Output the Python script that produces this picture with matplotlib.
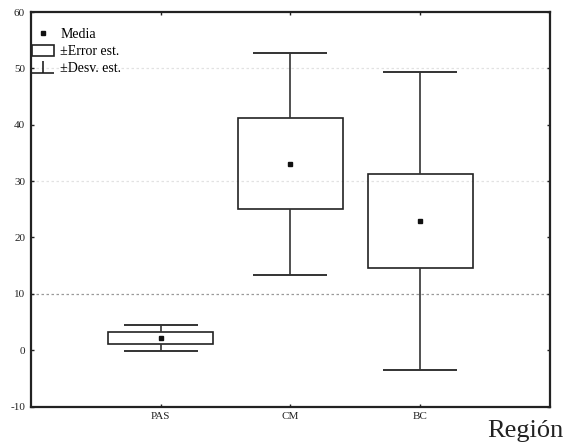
import numpy as np
import matplotlib
matplotlib.use('Agg')
import matplotlib.pyplot as plt
from matplotlib.path import Path
from matplotlib.lines import Line2D
from matplotlib.patches import Rectangle

# Datos
regiones = ['PAS', 'CM', 'BC']
media = [2.2, 33.1, 22.9]
error_est = [1.05, 8.1, 8.4]
desv_est = [2.3, 19.7, 26.5]
yticks = [-10, 0, 10, 20, 30, 40, 50, 60]
lineas_grid = [10, 30, 50]

plt.rcParams['font.family'] = ['Liberation Serif', 'DejaVu Serif']

fig = plt.figure(figsize=(5.65, 4.45), dpi=100)
ax = fig.add_axes([0.0543, 0.0865, 0.9192, 0.8865])

x = np.arange(1, len(regiones) + 1)
media = np.array(media)
se = np.array(error_est)
sd = np.array(desv_est)

# lineas de referencia
for g, c in zip(lineas_grid, ['#9a9a9a', '#e2e2e2', '#e2e2e2']):
    ax.axhline(g, color=c, lw=0.9, ls=(0, (2, 2)), zorder=0)

# cajas (+-error est.)
ax.bar(x, 2 * se, bottom=media - se, width=0.81, fill=False,
       edgecolor='#222222', linewidth=1.2, zorder=2)
# bigotes (+-desv. est.)
ax.vlines(x, media + se, media + sd, color='#333333', lw=1.2, zorder=2)
ax.vlines(x, media - sd, media - se, color='#333333', lw=1.2, zorder=2)
ax.hlines(media + sd, x - 0.285, x + 0.285, color='#333333', lw=1.4, zorder=2)
ax.hlines(media - sd, x - 0.285, x + 0.285, color='#333333', lw=1.4, zorder=2)
# medias
ax.plot(x, media, 's', color='#111111', markersize=3.5, zorder=3)

ax.set_xlim(0, 4)
ax.set_ylim(-10, 60)
ax.set_xticks(x)
ax.set_xticklabels(regiones, fontsize=8)
ax.set_yticks(yticks)
ax.set_yticklabels([str(v) for v in yticks], fontsize=8)
ax.tick_params(direction='in', length=2, width=1, top=True, right=True,
               colors='#222222', pad=4)
for s in ax.spines.values():
    s.set_linewidth(1.6)
    s.set_color('#222222')

# leyenda
perp = Path([(-1, -0.55), (1, -0.55), (0, -0.55), (0, 0.55)],
            [Path.MOVETO, Path.LINETO, Path.MOVETO, Path.LINETO])
h_media = Line2D([], [], marker='s', ls='None', color='#111111', markersize=3.5)
h_err = Rectangle((0, 0), 1, 1, fill=False, edgecolor='#222222', linewidth=1.2)
h_sd = Line2D([], [], marker=perp, ls='None', color='#222222', markersize=16,
              markeredgewidth=1.2)
ax.legend([h_media, h_err, h_sd], ['Media', '±Error est.', '±Desv. est.'],
          loc='upper left', bbox_to_anchor=(0.0025, 0.96), frameon=False,
          fontsize=10, handlelength=1.6, handleheight=0.85,
          handletextpad=0.45, labelspacing=0.25, borderaxespad=0,
          borderpad=0)

fig.text(0.998, 0.018, 'Región', ha='right', va='baseline', fontsize=19,
         color='#222222')

fig.savefig('out.png', dpi=100)
